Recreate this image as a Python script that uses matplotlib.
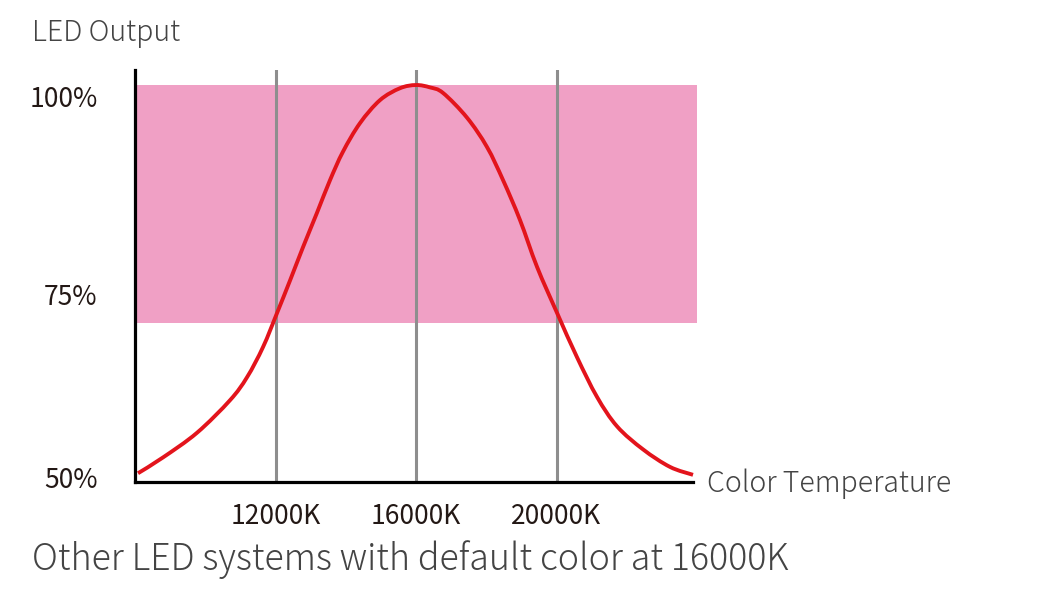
import matplotlib
matplotlib.use('Agg')
import matplotlib.pyplot as plt
from matplotlib.path import Path
from matplotlib.patches import PathPatch

plt.rcParams['font.family'] = ['Noto Sans CJK JP', 'DejaVu Sans']

# colour temperature (K) vs LED output (% of peak)
temp_k = [8085, 8800, 9765, 10705, 11190, 11645, 12045, 12415, 12785, 13180,
          13550, 13920, 14405, 14975, 15545, 16000, 16400, 16770, 17450, 18020,
          18480, 18960, 19445, 20015, 20585, 21155, 21725, 22465, 23230, 23886]
output_pct = [51.1, 53.1, 56.2, 60.3, 63.2, 67.0, 71.3, 75.4, 79.6, 83.9,
              88.0, 91.6, 95.2, 98.1, 99.6, 100.0, 99.7, 99.0, 95.9, 92.2,
              88.0, 83.0, 77.1, 71.3, 65.7, 60.7, 57.0, 54.1, 51.9, 50.9]

band_low, band_high = 70, 100
marker_temps = [12000, 16000, 20000]
marker_labels = ['12000K', '16000K', '20000K']
y_labels = ['50%', '75%', '100%']
y_label_vals = [50, 75, 100]


def smooth_path(xs, ys):
    """Catmull-Rom through the points, written as cubic Bezier segments."""
    pts = list(zip(xs, ys))
    verts = [pts[0]]
    codes = [Path.MOVETO]
    n = len(pts)
    for i in range(n - 1):
        p0 = pts[max(i - 1, 0)]
        p1 = pts[i]
        p2 = pts[i + 1]
        p3 = pts[min(i + 2, n - 1)]
        c1 = (p1[0] + (p2[0] - p0[0]) / 6, p1[1] + (p2[1] - p0[1]) / 6)
        c2 = (p2[0] - (p3[0] - p1[0]) / 6, p2[1] - (p3[1] - p1[1]) / 6)
        verts += [c1, c2, p2]
        codes += [Path.CURVE4] * 3
    return Path(verts, codes)


fig = plt.figure(figsize=(10.45, 6.03), dpi=100)
ax = fig.add_axes([0.1292, 0.2007, 0.5378, 0.6833])
ax.set_xlim(8000, 24000)
ax.set_ylim(50, 101.9)

ax.axhspan(band_low, band_high, color='#f0a0c5', lw=0, zorder=1)
for t in marker_temps:
    ax.axvline(t, color='#8e8e8e', lw=2.2, zorder=2)
curve = PathPatch(smooth_path(temp_k, output_pct), facecolor='none',
                  edgecolor='#e3141c', lw=2.8, zorder=3, capstyle='butt')
ax.add_patch(curve)

for s in ['top', 'right']:
    ax.spines[s].set_visible(False)
for s in ['left', 'bottom']:
    ax.spines[s].set_linewidth(2.3)
    ax.spines[s].set_color('black')
    ax.spines[s].set_zorder(4)
ax.spines['bottom'].set_bounds(8000, 23890)

ax.set_xticks(marker_temps, marker_labels)
ax.tick_params(axis='x', length=0, pad=15, labelsize=19, labelcolor='#231815')
ax.set_yticks([])

# y labels sit a little off the nominal values in the original
offsets = [1, -10, -10.5]
for lab, v, dy in zip(y_labels, y_label_vals, offsets):
    ax.annotate(lab, xy=(0, v), xycoords=('axes fraction', 'data'),
                xytext=(-27, dy), textcoords='offset points',
                ha='right', va='center', fontsize=19, color='#231815')

fig.text(32 / 1045, 1 - 33 / 603, 'LED Output', ha='left', va='center',
         fontsize=20.5, color='#444444', fontweight='light')
fig.text(707 / 1045, 1 - 484 / 603, 'Color Temperature', ha='left', va='center',
         fontsize=20.5, color='#444444', fontweight='light')
fig.text(32 / 1045, 1 - 560 / 603, 'Other LED systems with default color at 16000K',
         ha='left', va='center', fontsize=25.7, color='#444444', fontweight='light')

fig.savefig('out.png', dpi=100)
